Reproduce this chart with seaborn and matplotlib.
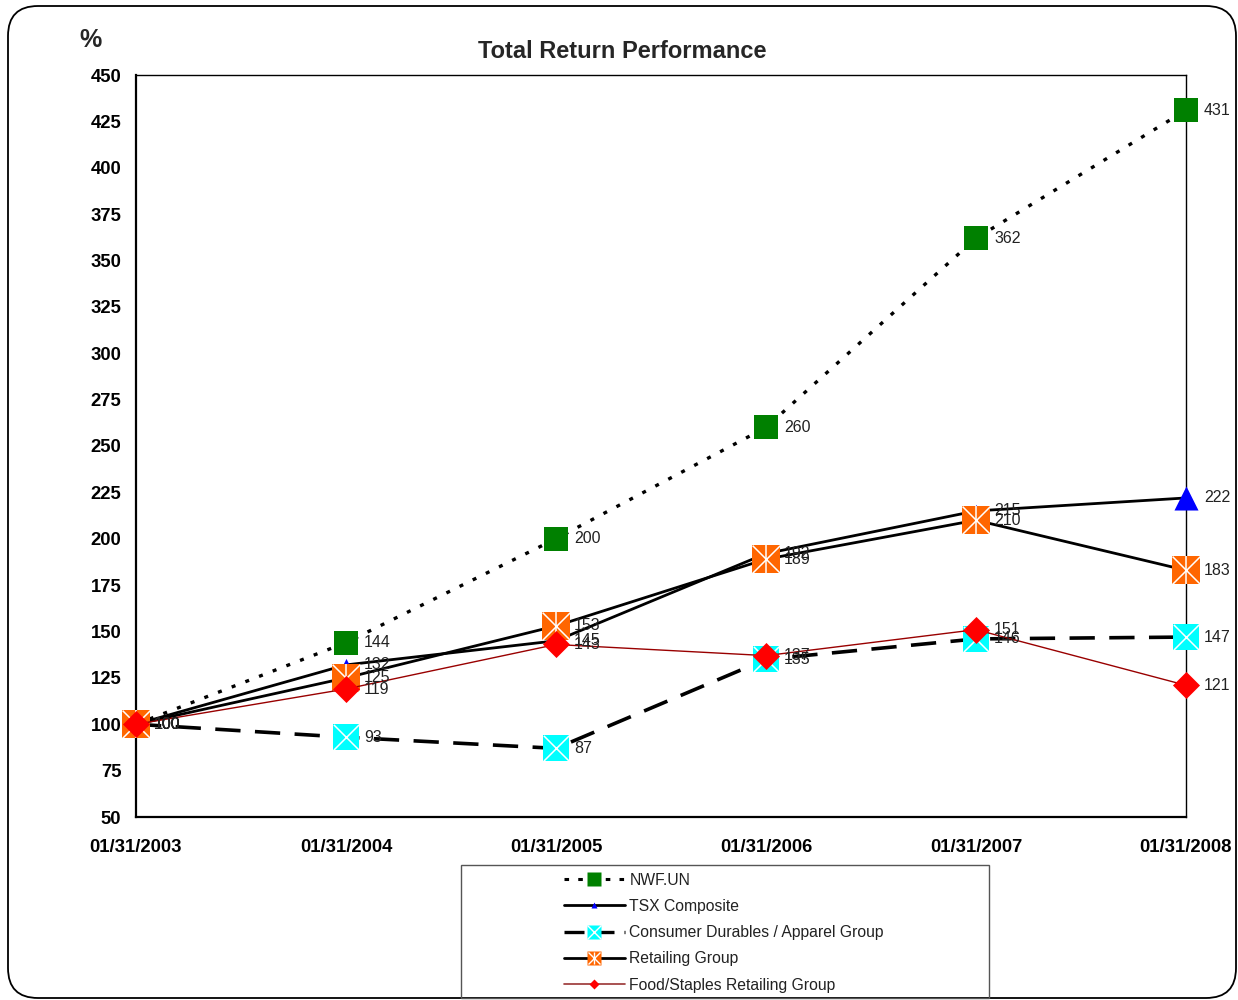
#!/usr/bin/env python3
"""Total Return Performance line chart (Excel-style) redrawn with seaborn."""
import numpy as np
import pandas as pd

import matplotlib
matplotlib.use("Agg")
import matplotlib.pyplot as plt
from matplotlib.lines import Line2D
from matplotlib.patches import FancyBboxPatch, Rectangle
from matplotlib.legend_handler import HandlerTuple
import seaborn as sns

dates = ["01/31/2003", "01/31/2004", "01/31/2005", "01/31/2006", "01/31/2007", "01/31/2008"]
nwf = [100, 144, 200, 260, 362, 431]
tsx = [100, 132, 145, 192, 215, 222]
durables = [100, 93, 87, 135, 146, 147]
retailing = [100, 125, 153, 189, 210, 183]
food = [100, 119, 143, 137, 151, 121]
yticks = list(range(50, 451, 25))

sns.set_style("white")
plt.rcParams["font.family"] = ["Liberation Sans", "DejaVu Sans"]

fig = plt.figure(figsize=(12.38, 10), dpi=100)
ax = fig.add_axes([136 / 1238, 183 / 1000, 1050 / 1238, 742 / 1000])

pos = list(range(len(dates)))


def frame(vals):
    return pd.DataFrame({"pos": pos, "value": vals})


def label_points(vals, dx=13):
    for x, v in zip(pos, vals):
        ax.annotate(str(v), (x, v), xytext=(dx, 0), textcoords="offset points",
                    va="center", ha="left", fontsize=11.5, color="#222222", zorder=20,
                    annotation_clip=False)


# NWF.UN - dotted black, green squares
d = frame(nwf)
sns.lineplot(data=d, x="pos", y="value", color="black", lw=2.4, ls=(0, (1.2, 3.2)),
             estimator=None, ax=ax, zorder=3)
sns.scatterplot(data=d, x="pos", y="value", marker="s", s=290, color="#008000",
                linewidth=0, ax=ax, zorder=4, clip_on=False)

# TSX Composite - solid black, blue triangles
d = frame(tsx)
sns.lineplot(data=d, x="pos", y="value", color="black", lw=2.0, estimator=None, ax=ax, zorder=5)
sns.scatterplot(data=d.iloc[:-1], x="pos", y="value", marker="^", s=90, color="#0000FF",
                linewidth=0, ax=ax, zorder=6, clip_on=False)
sns.scatterplot(data=d.iloc[-1:], x="pos", y="value", marker="^", s=300, color="#0000FF",
                linewidth=0, ax=ax, zorder=6, clip_on=False)

# Consumer Durables / Apparel - dashed black, cyan squares with white X
d = frame(durables)
sns.lineplot(data=d, x="pos", y="value", color="black", lw=2.6, ls=(0, (7, 4)),
             estimator=None, ax=ax, zorder=7)
sns.scatterplot(data=d, x="pos", y="value", marker="s", s=330, color="#00FFFF",
                linewidth=0, ax=ax, zorder=8, clip_on=False)
ax.scatter(d["pos"], d["value"], marker="x", s=330, c="white", linewidths=1.1,
           zorder=8.5, clip_on=False)

# Retailing Group - solid black, orange squares with white asterisk
d = frame(retailing)
sns.lineplot(data=d, x="pos", y="value", color="black", lw=2.0, estimator=None, ax=ax, zorder=9)
sns.scatterplot(data=d, x="pos", y="value", marker="s", s=400, color="#FF6600",
                linewidth=0, ax=ax, zorder=10, clip_on=False)
ax.scatter(d["pos"], d["value"], marker="x", s=400, c="white", linewidths=1.1,
           zorder=10.5, clip_on=False)
ax.scatter(d["pos"], d["value"], marker="|", s=400, c="white", linewidths=1.1,
           zorder=10.5, clip_on=False)

# Food/Staples Retailing - thin dark red, red diamonds
d = frame(food)
sns.lineplot(data=d, x="pos", y="value", color="#990000", lw=1.0, estimator=None, ax=ax, zorder=11)
sns.scatterplot(data=d, x="pos", y="value", marker="D", s=190, color="#FF0000",
                linewidth=0, ax=ax, zorder=12, clip_on=False)

for vals in (nwf, tsx, durables, retailing, food):
    label_points(vals)

ax.set_xlim(0, len(dates) - 1)
ax.set_ylim(50, 450)
ax.set_xticks(pos)
ax.set_xticklabels(dates)
ax.set_yticks(yticks)
ax.set_xlabel("")
ax.set_ylabel("")
for lab in ax.get_xticklabels() + ax.get_yticklabels():
    lab.set_fontweight("bold")
    lab.set_fontsize(13.3)
    lab.set_color("black")
ax.tick_params(axis="both", direction="inout", length=9, width=1, color="black")
ax.tick_params(axis="x", pad=11)
ax.tick_params(axis="y", pad=6)
for sp in ax.spines.values():
    sp.set_visible(True)
    sp.set_color("black")
    sp.set_linewidth(1.0)
ax.spines["left"].set_linewidth(1.6)
ax.spines["bottom"].set_linewidth(1.6)
ax.set_facecolor("white")

fig.text(622 / 1238, 1 - 51 / 1000, "Total Return Performance", ha="center", va="center",
         fontsize=17, fontweight="bold")
fig.text(90 / 1238, 1 - 40 / 1000, "%", ha="center", va="center", fontsize=18, fontweight="bold")

# outer rounded border and legend box
fig.patches.append(FancyBboxPatch((0.08, 0.02), 12.28, 9.92, boxstyle="round,pad=0,rounding_size=0.3",
                                  transform=fig.dpi_scale_trans, fill=False, ec="black", lw=1.3,
                                  zorder=0))
fig.patches.append(Rectangle((4.61, 0.02), 5.28, 1.33, transform=fig.dpi_scale_trans,
                             fill=False, ec="#555555", lw=1.0))

h_nwf = (Line2D([], [], color="black", lw=2.2, ls=(0, (1.5, 3))),
         Line2D([], [], ls="none", marker="s", ms=10, mfc="#008000", mec="none"))
h_tsx = (Line2D([], [], color="black", lw=2.0),
         Line2D([], [], ls="none", marker="^", ms=5, mfc="#0000FF", mec="none"))
h_dur = (Line2D([], [], color="black", lw=2.4, ls=(0, (6, 3))),
         Line2D([], [], ls="none", marker="s", ms=10, mfc="#00FFFF", mec="none"),
         Line2D([], [], ls="none", marker="x", ms=10, mec="white", mew=1))
h_ret = (Line2D([], [], color="black", lw=2.0),
         Line2D([], [], ls="none", marker="s", ms=10, mfc="#FF6600", mec="none"),
         Line2D([], [], ls="none", marker="x", ms=9, mec="white", mew=1),
         Line2D([], [], ls="none", marker="|", ms=9, mec="white", mew=1))
h_food = (Line2D([], [], color="#993333", lw=1.2),
          Line2D([], [], ls="none", marker="D", ms=5, mfc="#FF0000", mec="none"))
fig.legend([h_nwf, h_tsx, h_dur, h_ret, h_food],
           ["NWF.UN", "TSX Composite", "Consumer Durables / Apparel Group", "Retailing Group",
            "Food/Staples Retailing Group"],
           handler_map={tuple: HandlerTuple(ndivide=1)},
           loc="upper left", bbox_to_anchor=(551 / 1238, 1 - 860 / 1000), frameon=False,
           fontsize=11.3, handlelength=3.9, handletextpad=0.3, labelspacing=0.72, borderpad=0.3,
           labelcolor="#222222")

fig.savefig("out.png", dpi=100, facecolor="white")
